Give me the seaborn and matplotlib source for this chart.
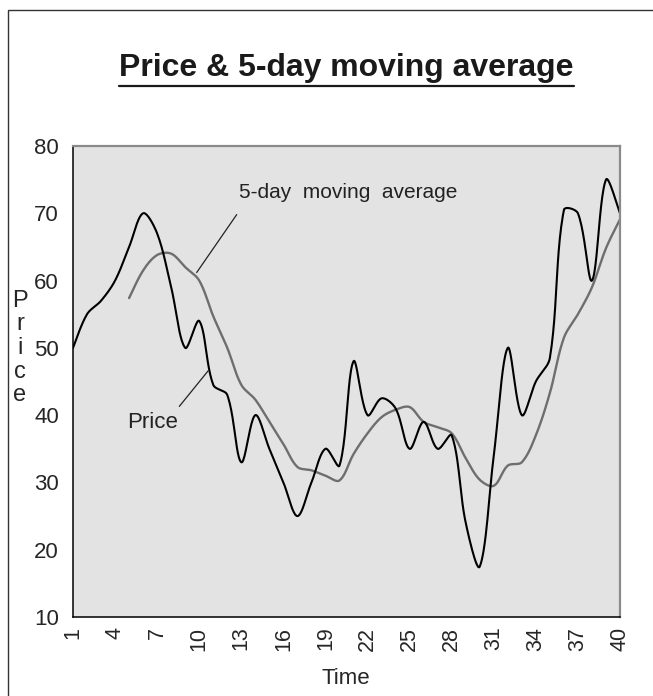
import numpy as np
import pandas as pd
import matplotlib
matplotlib.use("Agg")
import matplotlib.pyplot as plt
import seaborn as sns
from matplotlib.patches import Rectangle
from matplotlib.lines import Line2D

# ---------------- data ----------------
days = list(range(1, 41))
price = [50, 55, 57, 60, 65, 70, 67, 59, 50, 54,
         44.5, 43, 33, 40, 35, 30, 25, 30, 35, 32.5,
         48, 40, 42.5, 41, 35, 39, 35, 37, 24, 17.5,
         34, 50, 40, 45, 48.5, 70.5, 70, 60, 75, 70]
ma_days = list(range(5, 41))
moving_avg = [57.4, 61.5, 63.8, 64, 62, 60, 54.7, 50, 44.5, 42.3,
              39, 35.7, 32.3, 31.8, 31, 30.3, 34.2, 37.3, 39.7, 40.8,
              41.2, 39, 38.2, 37.3, 33.6, 30.4, 29.5, 32.5, 33, 37,
              43.3, 51.5, 55, 59, 64.8, 69.1]
x_tick_labels = [str(d) if (d - 1) % 3 == 0 else "" for d in days]
y_ticks = [10, 20, 30, 40, 50, 60, 70, 80]

# pixel size of one data unit (for distance-weighted, Excel-like smoothing)
PX_PER_DAY, PX_PER_UNIT = 14.03, 6.73


def smooth_path(xs, ys, n=24):
    """Excel-style smoothed line: cubic Bezier through every data point,
    control arms weighted by neighbouring segment lengths on screen."""
    P = np.column_stack([np.asarray(xs, float), np.asarray(ys, float)])
    S = np.array([PX_PER_DAY, PX_PER_UNIT])
    m = len(P)
    Pp = np.vstack([P[0], P, P[-1]])
    d = [np.linalg.norm((P[i + 1] - P[i]) * S) for i in range(m - 1)]
    out = [P[0]]
    t = np.linspace(0, 1, n + 1)[1:, None]
    for i in range(m - 1):
        p0, p1, p2, p3 = Pp[i], Pp[i + 1], Pp[i + 2], Pp[i + 3]
        dprev = d[i - 1] if i > 0 else d[i]
        dnext = d[i + 1] if i < m - 2 else d[i]
        f1 = d[i] / (dprev + d[i]) / 1.5
        f2 = d[i] / (d[i] + dnext) / 1.5
        c1 = p1 + (p2 - p0) * f1 / 2
        c2 = p2 - (p3 - p1) * f2 / 2
        seg = ((1 - t) ** 3) * p1 + 3 * ((1 - t) ** 2) * t * c1 + 3 * (1 - t) * t ** 2 * c2 + t ** 3 * p2
        out.extend(seg)
    out = np.array(out)
    return pd.DataFrame({"x": out[:, 0], "y": out[:, 1]})


sns.set_style("white")
plt.rcParams["font.family"] = ["Liberation Sans", "DejaVu Sans"]

W, H = 653, 696
fig = plt.figure(figsize=(W / 100, H / 100), dpi=100)
left, right, top, bottom = 73, 620, 146, 617
ax = fig.add_axes([left / W, 1 - bottom / H, (right - left) / W, (bottom - top) / H])
ax.set_facecolor("#E3E3E3")

df_ma = smooth_path(ma_days, moving_avg)
df_price = smooth_path(days, price)
sns.lineplot(data=df_ma, x="x", y="y", sort=False, estimator=None,
             color="#6E6E6E", linewidth=1.7, ax=ax)
sns.lineplot(data=df_price, x="x", y="y", sort=False, estimator=None,
             color="black", linewidth=1.5, ax=ax)

ax.set_xlim(1, 40)
ax.set_ylim(10, 80)
ax.set_xticks(days)
ax.set_xticklabels(x_tick_labels, rotation=90)
ax.set_yticks(y_ticks)
ax.set_yticklabels([str(v) for v in y_ticks])
ax.tick_params(axis="x", direction="inout", length=8, width=1, color="black",
               labelsize=15.5, pad=3)
ax.tick_params(axis="y", direction="out", length=6, width=1, color="black",
               labelsize=16, pad=4)
ax.set_xlabel("")
ax.set_ylabel("")
for s in ["left", "bottom"]:
    ax.spines[s].set_color("black")
    ax.spines[s].set_linewidth(1.1)
for s in ["top", "right"]:
    ax.spines[s].set_color("#8A8A8A")
    ax.spines[s].set_linewidth(1.6)

# annotations
ax.annotate("", xy=(9.82, 61.2), xytext=(12.67, 69.8),
            arrowprops=dict(arrowstyle="-", color="#222222", lw=0.9, shrinkA=0, shrinkB=0))
ax.text(12.83, 73.1, "5-day  moving  average", fontsize=15, ha="left", va="center",
        color="#222222")
ax.annotate("", xy=(10.64, 46.6), xytext=(8.58, 41.3),
            arrowprops=dict(arrowstyle="-", color="#222222", lw=0.9, shrinkA=0, shrinkB=0))
ax.text(4.87, 38.9, "Price", fontsize=16, ha="left", va="center", color="#222222")

# titles / labels
title = fig.text(346.5 / W, 1 - 68 / H, "Price & 5-day moving average", ha="center",
                 va="center", fontsize=23, fontweight="bold", color="#1A1A1A")
fig.text(20 / W, 1 - 348 / H, "P\nr\ni\nc\ne", ha="center", va="center",
         fontsize=17, linespacing=1.1, multialignment="center")
fig.text(346 / W, 1 - 678 / H, "Time", ha="center", va="center", fontsize=16)

# underline the title
fig.canvas.draw()
bb = title.get_window_extent()
uy = (H - 86) / H
fig.add_artist(Line2D([bb.x0 / W, bb.x1 / W], [uy, uy], transform=fig.transFigure,
                      color="#1A1A1A", lw=1.6))

# chart-area border
fig.add_artist(Rectangle((8 / W, -0.05), 1.2, 1.05 - 10 / H, transform=fig.transFigure,
                         fill=False, edgecolor="#333333", lw=1.0))

fig.savefig("out.png", dpi=100)
